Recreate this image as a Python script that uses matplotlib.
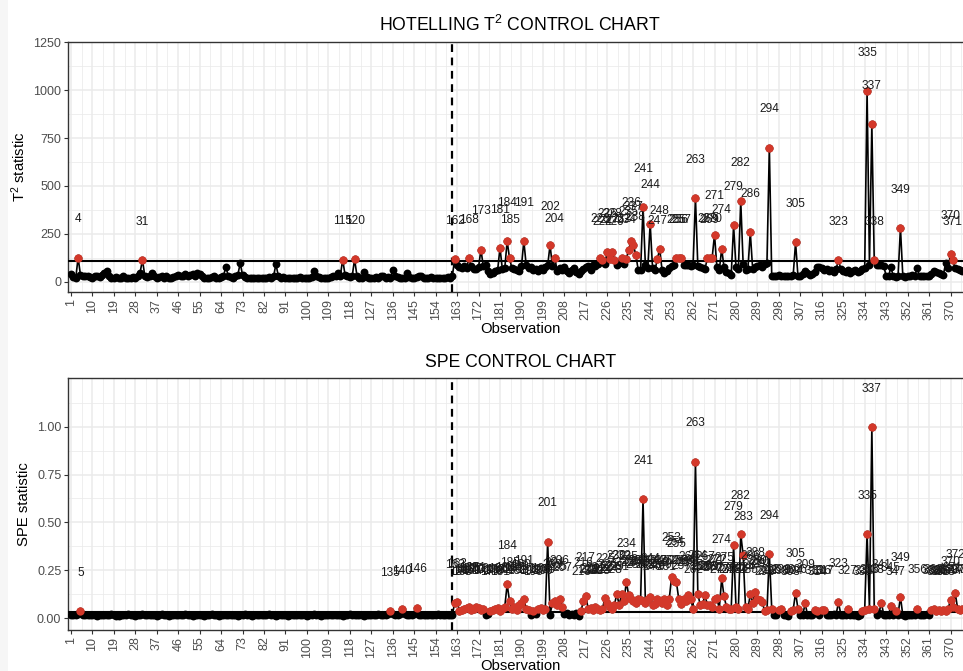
import numpy as np
import matplotlib
matplotlib.use("Agg")
from matplotlib import pyplot as plt

plt.rcParams["font.family"] = ["Liberation Sans", "DejaVu Sans"]
plt.rcParams["mathtext.fontset"] = "custom"
plt.rcParams["mathtext.rm"] = "Liberation Sans"
plt.rcParams["mathtext.it"] = "Liberation Sans:italic"

# Hotelling T2 statistic, observations 1..160 (phase I) and 161.. (phase II)
t2_phase1 = [
    40, 25, 18, 125, 35, 30, 28, 32, 25, 22,
    28, 30, 25, 35, 45, 55, 30, 22, 20, 25,
    18, 22, 28, 20, 18, 22, 25, 20, 30, 48,
    114, 30, 25, 28, 45, 30, 20, 25, 30, 22,
    28, 20, 18, 25, 30, 35, 28, 32, 40, 30,
    35, 42, 30, 45, 38, 28, 22, 18, 20, 25,
    28, 22, 18, 25, 30, 78, 30, 25, 22, 28,
    35, 97, 35, 25, 20, 18, 22, 20, 18, 20,
    22, 18, 20, 25, 22, 28, 92, 30, 22, 25,
    20, 18, 22, 20, 18, 22, 25, 20, 18, 22,
    20, 25, 55, 30, 25, 20, 22, 18, 20, 25,
    28, 30, 45, 30, 116, 35, 28, 25, 30, 117,
    30, 22, 20, 50, 25, 22, 18, 22, 25, 20,
    28, 30, 22, 25, 20, 62, 28, 25, 22, 20,
    22, 48, 25, 22, 20, 25, 30, 28, 22, 20,
    22, 25, 20, 22, 18, 20, 22, 20, 25, 22,
    30,
]
t2_phase2 = [
    118, 85, 75, 70, 80, 72, 122, 80, 65, 68,
    75, 168, 80, 85, 55, 40, 45, 55, 60, 177,
    65, 70, 213, 122, 70, 65, 60, 55, 80, 213,
    85, 70, 75, 60, 65, 55, 70, 60, 75, 85,
    192, 80, 125, 55, 70, 60, 75, 55, 45, 60,
    70, 50, 40, 55, 65, 75, 80, 60, 85, 80,
    95, 125, 112, 95, 156, 120, 156, 113, 90, 100,
    125, 95, 120, 165, 212, 190, 139, 60, 62, 390,
    85, 70, 304, 70, 60, 118, 170, 60, 45, 55,
    70, 80, 85, 122, 122, 122, 90, 85, 85, 80,
    88, 437, 80, 75, 70, 65, 125, 122, 125, 246,
    75, 60, 172, 75, 50, 45, 35, 295, 75, 65,
    422, 95, 60, 65, 260, 65, 75, 80, 90, 75,
    95, 100, 700, 30, 30, 32, 35, 30, 28, 32,
    30, 28, 35, 205, 30, 28, 40, 55, 45, 35,
    40, 50, 75, 78, 70, 60, 65, 55, 60, 50,
    65, 114, 65, 55, 50, 60, 45, 55, 60, 50,
    55, 65, 70, 995, 90, 821, 113, 85, 88, 85,
    82, 30, 30, 75, 28, 25, 30, 281, 28, 25,
    30, 28, 35, 30, 70, 30, 28, 32, 30, 28,
    40, 55, 50, 45, 40, 35, 100, 70, 144, 113,
    70, 65, 60, 55,
]

# SPE statistic, same observations
spe_phase1 = [
    0.020, 0.018, 0.015, 0.022, 0.038, 0.020, 0.017, 0.015, 0.018, 0.020,
    0.016, 0.014, 0.018, 0.020, 0.017, 0.015, 0.019, 0.021, 0.016, 0.014,
    0.012, 0.016, 0.018, 0.020, 0.022, 0.017, 0.015, 0.013, 0.016, 0.019,
    0.021, 0.018, 0.015, 0.017, 0.020, 0.016, 0.014, 0.018, 0.022, 0.019,
    0.016, 0.013, 0.015, 0.018, 0.020, 0.017, 0.015, 0.019, 0.023, 0.018,
    0.016, 0.014, 0.017, 0.020, 0.018, 0.015, 0.013, 0.016, 0.019, 0.021,
    0.018, 0.016, 0.014, 0.017, 0.020, 0.018, 0.015, 0.017, 0.019, 0.016,
    0.014, 0.016, 0.019, 0.021, 0.017, 0.015, 0.013, 0.016, 0.018, 0.020,
    0.017, 0.015, 0.018, 0.021, 0.019, 0.016, 0.014, 0.017, 0.020, 0.018,
    0.015, 0.013, 0.016, 0.019, 0.017, 0.015, 0.018, 0.020, 0.016, 0.014,
    0.017, 0.019, 0.021, 0.018, 0.015, 0.013, 0.016, 0.018, 0.020, 0.017,
    0.015, 0.018, 0.020, 0.017, 0.014, 0.016, 0.019, 0.021, 0.018, 0.015,
    0.017, 0.019, 0.016, 0.014, 0.018, 0.020, 0.017, 0.015, 0.018, 0.021,
    0.019, 0.016, 0.020, 0.024, 0.038, 0.022, 0.018, 0.020, 0.023, 0.047,
    0.021, 0.018, 0.016, 0.019, 0.022, 0.055, 0.020, 0.017, 0.015, 0.018,
    0.020, 0.017, 0.015, 0.018, 0.021, 0.019, 0.016, 0.018, 0.020, 0.017,
    0.019,
]
spe_phase2 = [
    0.080, 0.085, 0.040, 0.042, 0.050, 0.055, 0.060, 0.045, 0.050, 0.060,
    0.055, 0.045, 0.050, 0.020, 0.025, 0.040, 0.045, 0.050, 0.055, 0.040,
    0.050, 0.060, 0.177, 0.090, 0.050, 0.060, 0.045, 0.070, 0.080, 0.100,
    0.050, 0.045, 0.020, 0.040, 0.025, 0.050, 0.055, 0.045, 0.050, 0.400,
    0.020, 0.080, 0.090, 0.070, 0.100, 0.060, 0.025, 0.030, 0.020, 0.025,
    0.020, 0.030, 0.010, 0.040, 0.090, 0.116, 0.050, 0.055, 0.045, 0.060,
    0.050, 0.045, 0.050, 0.107, 0.080, 0.060, 0.050, 0.070, 0.127, 0.070,
    0.125, 0.090, 0.190, 0.120, 0.100, 0.090, 0.080, 0.100, 0.095, 0.620,
    0.080, 0.100, 0.110, 0.070, 0.075, 0.100, 0.090, 0.080, 0.100, 0.070,
    0.100, 0.217, 0.196, 0.190, 0.100, 0.075, 0.100, 0.090, 0.120, 0.100,
    0.050, 0.817, 0.127, 0.070, 0.075, 0.120, 0.070, 0.070, 0.060, 0.100,
    0.105, 0.050, 0.208, 0.115, 0.060, 0.050, 0.050, 0.382, 0.060, 0.050,
    0.440, 0.330, 0.060, 0.050, 0.125, 0.080, 0.140, 0.100, 0.095, 0.085,
    0.040, 0.045, 0.333, 0.050, 0.020, 0.015, 0.045, 0.050, 0.020, 0.015,
    0.010, 0.040, 0.045, 0.134, 0.050, 0.020, 0.015, 0.078, 0.020, 0.015,
    0.020, 0.045, 0.040, 0.020, 0.045, 0.045, 0.020, 0.015, 0.020, 0.025,
    0.020, 0.083, 0.020, 0.015, 0.020, 0.047, 0.020, 0.015, 0.020, 0.010,
    0.015, 0.040, 0.045, 0.440, 0.050, 0.996, 0.050, 0.020, 0.030, 0.080,
    0.020, 0.015, 0.020, 0.064, 0.015, 0.040, 0.020, 0.113, 0.015, 0.010,
    0.015, 0.020, 0.015, 0.020, 0.050, 0.020, 0.015, 0.020, 0.025, 0.020,
    0.045, 0.050, 0.040, 0.045, 0.040, 0.045, 0.040, 0.050, 0.095, 0.060,
    0.130, 0.050, 0.045, 0.050,
]

t2_limit = 110
spe_limit = 0.035
phase_split = 161

t2 = np.array(t2_phase1 + t2_phase2, dtype=float)
spe = np.array(spe_phase1 + spe_phase2, dtype=float)
obs = np.arange(1, len(t2) + 1)

RED = "#D3382A"
GRID = "#EBEBEB"
TICK_COL = "#4D4D4D"


def control_panel(ax, y, limit, ylim, yticks, yminor, ylabel, title, label_offset, fmt):
    ax.set_xlim(-0.12, 375.95)
    ax.set_ylim(*ylim)
    xt = np.arange(1, 380, 9)
    ax.set_xticks(xt)
    ax.set_xticklabels([str(v) for v in xt], rotation=90, fontsize=9, color=TICK_COL)
    ax.set_xticks(xt[:-1] + 4.5, minor=True)
    ax.set_yticks(yticks)
    ax.set_yticklabels([fmt(v) for v in yticks], fontsize=9, color=TICK_COL)
    ax.set_yticks(yminor, minor=True)
    ax.grid(which="major", color=GRID, lw=1.1, zorder=0)
    ax.grid(which="minor", color=GRID, lw=0.55, zorder=0)
    ax.tick_params(which="major", length=3, width=0.8, color="#333333", pad=2)
    ax.tick_params(which="minor", length=0)
    ax.set_axisbelow(True)
    for s in ax.spines.values():
        s.set_color("#333333")
        s.set_linewidth(1.0)

    ax.plot(obs, y, color="black", lw=1.2, zorder=2)
    ax.axhline(limit, color="black", lw=1.5, zorder=3)
    ax.axvline(phase_split, color="black", lw=1.6, ls=(0, (3.5, 2.5)), zorder=3)
    ax.scatter(obs, y, s=32, color="black", zorder=4, linewidths=0)
    out = y > limit
    ax.scatter(obs[out], y[out], s=36, color=RED, zorder=5, linewidths=0)
    for o, v in zip(obs[out], y[out]):
        ax.text(o, v + label_offset, str(o), ha="center", va="center",
                fontsize=8.6, color="#1A1A1A", zorder=6)

    ax.set_xlabel("Observation", fontsize=10.7, labelpad=1)
    ax.set_ylabel(ylabel, fontsize=10.7, labelpad=4)
    ax.set_title(title, fontsize=12.7, pad=8)


fig = plt.figure(figsize=(9.63, 6.71), dpi=100)
fig.patch.set_facecolor("white")
# faint grey strip along the left edge of the screenshot
fig.patches.append(plt.Rectangle((0, 0), 8 / 963, 1, transform=fig.transFigure,
                                 facecolor="#F6F6F6", edgecolor="none", zorder=0))

ax1 = fig.add_axes([0.0709, 0.5644, 0.9384, 0.3735])
control_panel(ax1, t2, t2_limit, (-55, 1253), [0, 250, 500, 750, 1000, 1250],
              [125, 375, 625, 875, 1125],
              r"T$^{2}$ statistic", r"HOTELLING T$^{2}$ CONTROL CHART", 200,
              lambda v: str(int(v)))

ax2 = fig.add_axes([0.0709, 0.0616, 0.9384, 0.3747])
control_panel(ax2, spe, spe_limit, (-0.059, 1.252), [0.0, 0.25, 0.5, 0.75, 1.0],
              [0.125, 0.375, 0.625, 0.875, 1.125],
              "SPE statistic", "SPE CONTROL CHART", 0.2,
              lambda v: "%.2f" % v)

fig.savefig("out.png", dpi=100)
